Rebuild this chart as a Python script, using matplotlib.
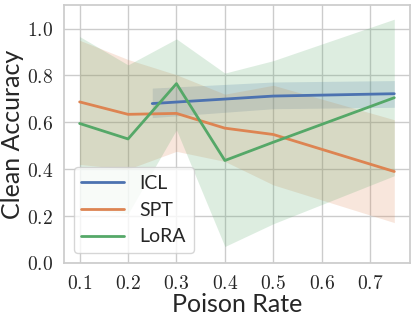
import matplotlib
matplotlib.use("Agg")
import matplotlib.pyplot as plt
import seaborn as sns
from matplotlib.ticker import FuncFormatter

sns.set_theme(style="whitegrid")
plt.rcParams['font.family'] = ['Lato', 'DejaVu Sans']
plt.rcParams['mathtext.fontset'] = 'cm'

# ICL
icl_x = [0.25, 0.5, 0.75]
icl_y = [0.68, 0.712, 0.722]
icl_lo = [0.62, 0.658, 0.664]
icl_hi = [0.746, 0.772, 0.778]

# SPT
spt_x = [0.1, 0.2, 0.3, 0.4, 0.5, 0.75]
spt_y = [0.687, 0.634, 0.638, 0.575, 0.548, 0.39]
spt_lo = [0.42, 0.40, 0.476, 0.433, 0.333, 0.172]
spt_hi = [0.95, 0.868, 0.803, 0.72, 0.758, 0.611]

# LoRA
lora_x = [0.1, 0.2, 0.3, 0.4, 0.5, 0.75]
lora_y = [0.595, 0.529, 0.765, 0.437, 0.515, 0.705]
lora_lo = [0.23, 0.21, 0.568, 0.07, 0.167, 0.372]
lora_hi = [0.966, 0.845, 0.956, 0.81, 0.863, 1.04]

colors = sns.color_palette("deep")

fig = plt.figure(figsize=(4.15, 3.21), dpi=100)
ax = fig.add_axes([0.154, 0.181, 0.834, 0.803])

for xs, ys, lo, hi, c, name in [
    (icl_x, icl_y, icl_lo, icl_hi, colors[0], "ICL"),
    (spt_x, spt_y, spt_lo, spt_hi, colors[1], "SPT"),
    (lora_x, lora_y, lora_lo, lora_hi, colors[2], "LoRA"),
]:
    ax.plot(xs, ys, color=c, lw=2, label=name)
    ax.fill_between(xs, lo, hi, color=c, alpha=0.2, lw=0)

ax.set_xlim(0.0675, 0.7825)
ax.set_ylim(0, 1.1)
ax.set_xticks([0.1, 0.2, 0.3, 0.4, 0.5, 0.6, 0.7])
ax.set_yticks([0.0, 0.2, 0.4, 0.6, 0.8, 1.0])
fmt = FuncFormatter(lambda v, p: r'$%.1f$' % v)
ax.xaxis.set_major_formatter(fmt)
ax.yaxis.set_major_formatter(fmt)
ax.tick_params(labelsize=14, pad=2)
ax.set_xlabel("Poison Rate", fontsize=18, labelpad=1)
ax.set_ylabel("Clean Accuracy", fontsize=18, labelpad=2)

ax.legend(loc="lower left", fontsize=14, handlelength=2.2, framealpha=0.8)

fig.savefig("out.png", dpi=100)
